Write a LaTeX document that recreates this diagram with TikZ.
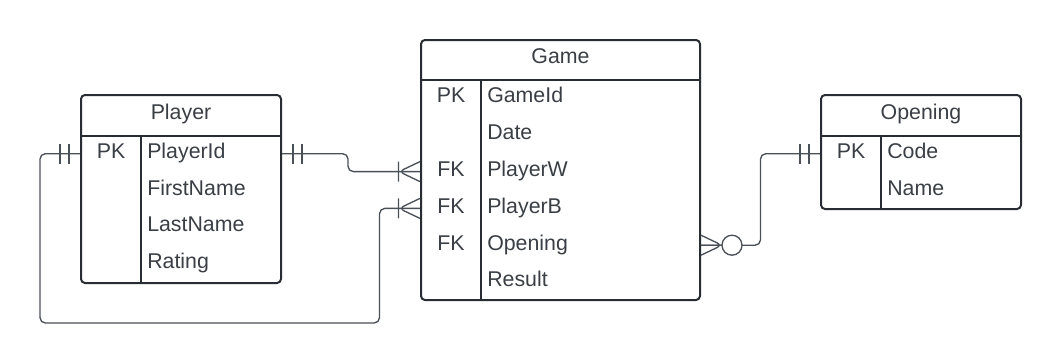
\documentclass[tikz,border=0pt]{standalone}
\usepackage{fontspec}
\setmainfont{Liberation Sans}
\definecolor{edge}{HTML}{282C33}
\definecolor{wirec}{HTML}{4A5058}
\definecolor{ink}{HTML}{3A3F46}
\tikzset{
  entity/.style={draw=edge,line width=1.5pt,rounded corners=3pt,fill=white,inner sep=0pt},
  rule/.style={draw=edge,line width=1.5pt},
  txt/.style={text=ink,inner sep=0pt,font=\fontsize{16}{19}\selectfont,yshift=-1pt},
  attr/.style={txt,anchor=mid west},
  keycol/.style={txt,anchor=mid},
  wire/.style={draw=wirec,line width=1pt,rounded corners=4pt},
  % exactly one
  onlyone/.pic={\draw[wire] (11,-10)--(11,10) (20,-10)--(20,10);},
  % one or many
  onemany/.pic={\draw[wire] (0,-10)--(21,0)--(0,10) (21.5,-10)--(21.5,10);},
  % zero or many
  zeromany/.pic={\draw[wire] (0,-10)--(21,0)--(0,10) (0,0)--(21,0);
                 \draw[wire,fill=white] (31,0) circle[radius=7.5pt];}
}
\begin{document}
\begin{tikzpicture}[x=0.75pt,y=-0.75pt]
\useasboundingbox (0,0) rectangle (1061,364);

% ---- Player ----
\node[entity,minimum width=150pt,minimum height=141pt] (player) at (181,189) {};
\draw[rule] (player.west |- 0,135.7) -- (player.east |- 0,135.7);
\draw[rule] (141,135.7) -- (141,283);
\node[keycol] (p-title) at (181,115) {Player};
\node[keycol] (p-pk) at (111,153.7) {PK};
\node[attr] (p-id) at (147,153.7) {PlayerId};
\node[attr] (p-first) at (147,190.4) {FirstName};
\node[attr] (p-last) at (147,227.1) {LastName};
\node[attr] (p-rating) at (147,263.8) {Rating};

% ---- Game ----
\node[entity,minimum width=209.25pt,minimum height=195pt] (game) at (560.5,170) {};
\draw[rule] (game.west |- 0,80) -- (game.east |- 0,80);
\draw[rule] (481,80) -- (481,300);
\node[keycol] (g-title) at (560.5,59) {Game};
\node[keycol] (g-pk) at (451,98) {PK};
\node[attr] (g-id) at (487,98) {GameId};
\node[attr] (g-date) at (487,134.8) {Date};
\node[keycol] (g-fkw) at (451,171.6) {FK};
\node[attr] (g-w) at (487,171.6) {PlayerW};
\node[keycol] (g-fkb) at (451,208.4) {FK};
\node[attr] (g-b) at (487,208.4) {PlayerB};
\node[keycol] (g-fko) at (451,245.2) {FK};
\node[attr] (g-open) at (487,245.2) {Opening};
\node[attr] (g-result) at (487,282) {Result};

% ---- Opening ----
\node[entity,minimum width=150pt,minimum height=85.5pt] (opening) at (921,152) {};
\draw[rule] (opening.west |- 0,135.7) -- (opening.east |- 0,135.7);
\draw[rule] (881,135.7) -- (881,209);
\node[keycol] (o-title) at (921,115) {Opening};
\node[keycol] (o-pk) at (851,153.7) {PK};
\node[attr] (o-code) at (887,153.7) {Code};
\node[attr] (o-name) at (887,190.4) {Name};

% ---- relationships (rows are met at their line height) ----
\coordinate (pid-row) at (0,153.7);
\coordinate (gw-row) at (0,171.6);
\coordinate (gb-row) at (0,208.4);
\coordinate (go-row) at (0,245.2);
\coordinate (oc-row) at (0,153.7);

% Player -> Game.PlayerW
\draw[wire] (player.east |- pid-row) -- (348,0 |- pid-row) -- (348,0 |- gw-row) -- (game.west |- gw-row);
\pic at (player.east |- pid-row) {onlyone};
\pic[rotate=180] at (game.west |- gw-row) {onemany};

% Player -> Game.PlayerB
\draw[wire] (player.west |- pid-row) -- (40,0 |- pid-row) -- (40,323) -- (379.5,323)
  -- (379.5,0 |- gb-row) -- (game.west |- gb-row);
\pic[rotate=180] at (player.west |- pid-row) {onlyone};
\pic[rotate=180] at (game.west |- gb-row) {onemany};

% Opening -> Game.Opening
\draw[wire] (game.east |- go-row) -- (760.5,0 |- go-row) -- (760.5,0 |- oc-row) -- (opening.west |- oc-row);
\pic at (game.east |- go-row) {zeromany};
\pic[rotate=180] at (opening.west |- oc-row) {onlyone};
\end{tikzpicture}
\end{document}
